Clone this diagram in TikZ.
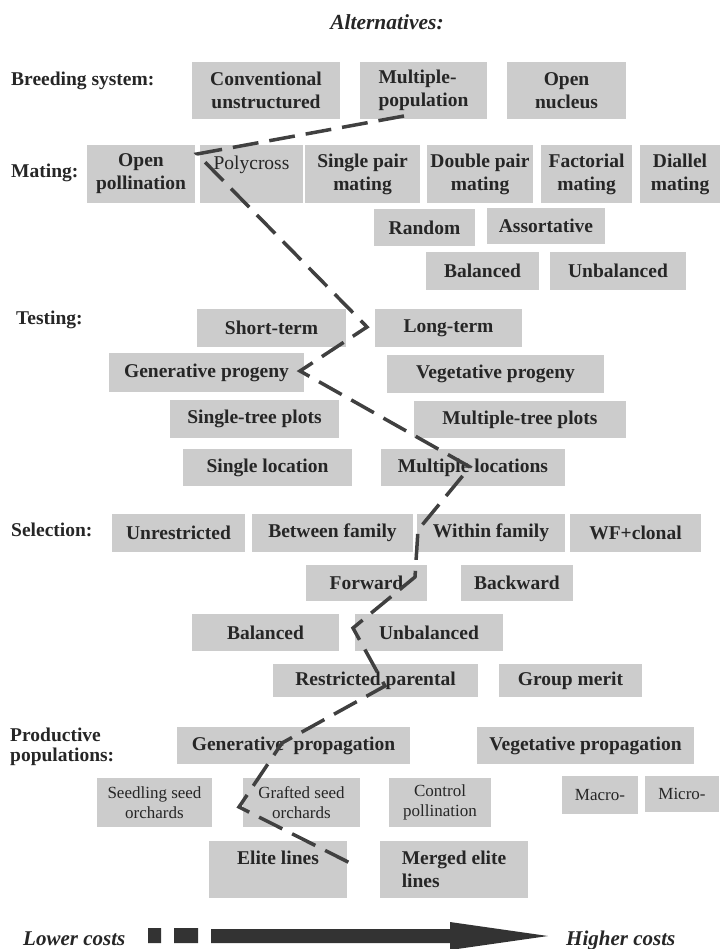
\documentclass[tikz,border=0pt]{standalone}
\usepackage{fontspec}
\setmainfont{Liberation Serif}
\usetikzlibrary{positioning}
\definecolor{boxgray}{gray}{0.8}
\definecolor{ink}{gray}{0.15}
\definecolor{dashgray}{gray}{0.25}

\begin{document}
\begin{tikzpicture}[x=1pt,y=-1pt,
  alt/.style={fill=boxgray,text=ink,inner sep=0pt,align=center,font=\fontsize{19.5}{23}\selectfont\bfseries},
  small/.style={alt,font=\fontsize{17}{20}\selectfont},
  box/.style 2 args={minimum width=#1pt,minimum height=#2pt},
  lab/.style={text=ink,inner sep=0pt,anchor=west,align=left,font=\fontsize{19.5}{20.5}\selectfont\bfseries},
  cost/.style={text=ink,inner sep=0pt,anchor=base west,font=\fontsize{21}{21}\selectfont\bfseries\itshape},
  route/.style={draw=dashgray,line width=3.5pt,dash pattern=on 26pt off 11pt}]
\useasboundingbox (0,0) rectangle (720,949);

\node[text=ink,inner sep=0pt,font=\fontsize{21.5}{22}\selectfont\bfseries\itshape] (title) at (387,22) {Alternatives:};

\node[lab] (lbreed) at (11,81) {Breeding system:};
\node[alt,box={148}{57}] (conv) at (266,90.5) {Conventional\\unstructured};
\node[alt,box={127}{57},align=left] (multpop) at (423.5,90.5) {Multiple-\\population};
\node[alt,box={119}{57}] (opennuc) at (566.5,90.5) {Open\\nucleus};

\node[lab] (lmating) at (11,173) {Mating:};
\node[alt,box={108}{58}] (openpol) at (141,174) {Open\\pollination};
\node[alt,box={103}{58},font=\fontsize{19.5}{23}\selectfont] (polycross) at (251.5,174) {Polycross\\~};
\node[alt,box={115}{58}] (singlepair) at (362.5,174) {Single pair\\mating};
\node[alt,box={106}{58}] (doublepair) at (480,174) {Double pair\\mating};
\node[alt,box={91}{58}] (factorial) at (586.5,174) {Factorial\\mating};
\node[alt,box={80}{58}] (diallel) at (680,174) {Diallel\\mating};
\node[alt,box={101}{37}] (random) at (424.5,227.5) {Random};
\node[alt,box={118}{36}] (assort) at (546,226) {Assortative};
\node[alt,box={113}{38}] (matbal) at (482.5,271) {Balanced};
\node[alt,box={136}{38}] (matunbal) at (618,271) {Unbalanced};

\node[lab] (ltesting) at (16,320) {Testing:};
\node[alt,box={149}{38}] (shortterm) at (271.5,328) {Short-term};
\node[alt,box={147}{38}] (longterm) at (448.5,328) {Long-term};
\node[alt,box={195}{39}] (genprog) at (206.5,372.5) {Generative progeny};
\node[alt,box={217}{38}] (vegprog) at (495.5,374) {Vegetative progeny};
\node[alt,box={169}{38}] (singletree) at (254.5,419) {Single-tree plots};
\node[alt,box={212}{37}] (multitree) at (520,419.5) {Multiple-tree plots};
\node[alt,box={169}{37}] (singleloc) at (267.5,467.5) {Single location};
\node[alt,box={184}{37}] (multiloc) at (473,467.5) {Multiple locations};

\node[lab] (lselection) at (11,530) {Selection:};
\node[alt,box={133}{38}] (unrestr) at (178.5,533) {Unrestricted};
\node[alt,box={161}{38}] (betweenfam) at (332.5,533) {Between family};
\node[alt,box={148}{38}] (withinfam) at (491,533) {Within family};
\node[alt,box={131}{38}] (wfclonal) at (635.5,533) {WF+clonal};
\node[alt,box={121}{36}] (forward) at (366.5,583) {Forward};
\node[alt,box={112}{36}] (backward) at (517,583) {Backward};
\node[alt,box={147}{37}] (selbal) at (265.5,632.5) {Balanced};
\node[alt,box={148}{37}] (selunbal) at (429,632.5) {Unbalanced};
\node[alt,box={205}{33}] (restrpar) at (375.5,680.5) {Restricted parental};
\node[alt,box={143}{33}] (groupmerit) at (570.5,680.5) {Group merit};

\node[lab] (lproductive) at (10,747) {Productive\\populations:};
\node[alt,box={233}{37}] (genprop) at (293.5,745.5) {Generative\ \ propagation};
\node[alt,box={217}{37}] (vegprop) at (585.5,745.5) {Vegetative propagation};
\node[small,box={115}{49}] (seedling) at (154.5,802.5) {Seedling seed\\orchards};
\node[small,box={117}{49}] (grafted) at (301.5,802.5) {Grafted seed\\orchards};
\node[small,box={102}{49}] (control) at (440,802.5) {Control\\pollination};
\node[small,box={76}{38}] (macro) at (600,795) {Macro-};
\node[small,box={74}{36}] (micro) at (682,794) {Micro-};
\node[alt,box={138}{57}] (elite) at (278,869.5) {Elite lines\\~};
\node[alt,box={148}{57},align=left] (merged) at (454,869.5) {Merged elite\\lines};

\foreach \x/\y [count=\i from 0] in {404/116,197/154,367/327,300/371,470/467,418/530,
    415/577,353/628,385/686,282/743,239/807,358/867}
  \coordinate (w\i) at (\x,\y);
\draw[route] (w0) -- (w1) -- (w2) -- (w3) -- (w4) -- (w5) -- (w6) -- (w7) -- (w8) -- (w9) -- (w10) -- (w11);

\node[cost] (lower) at (23,945) {Lower costs};
\node[cost] (higher) at (566,945) {Higher costs};
\fill[black!80] (148,928) rectangle (161,943) (174,928) rectangle (198,943);
\fill[black!80] (211,929) -- (450,929) -- (450,922) -- (548,936) -- (450,950) -- (450,943) -- (211,943) -- cycle;
\end{tikzpicture}
\end{document}
